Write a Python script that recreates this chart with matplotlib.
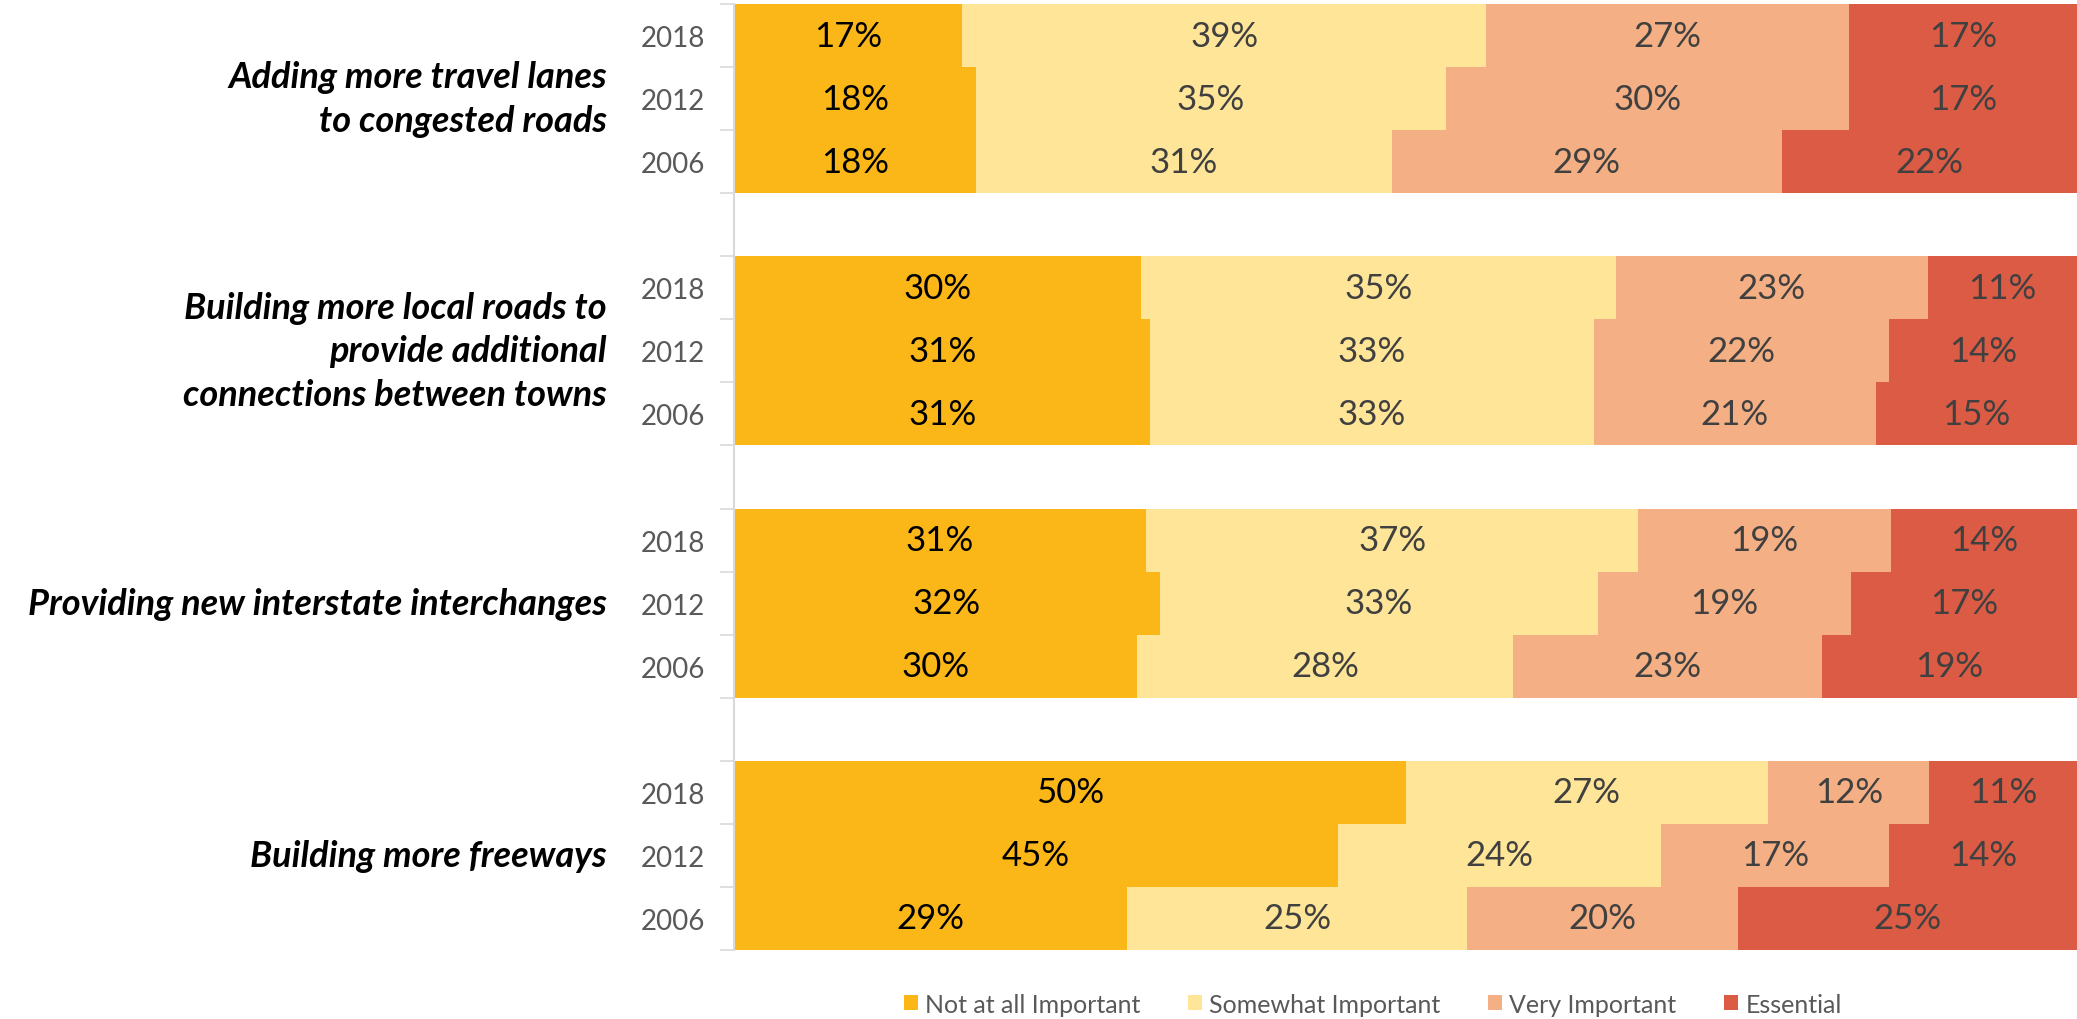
import numpy as np
import matplotlib
matplotlib.use("Agg")
import matplotlib.pyplot as plt
from matplotlib.patches import Patch

plt.rcParams['font.family'] = ['Lato', 'DejaVu Sans']

questions = ['Adding more travel lanes\nto congested roads',
             'Building more local roads to\nprovide additional\nconnections between towns',
             'Providing new interstate interchanges',
             'Building more freeways']
years = ['2018', '2012', '2006']
levels = ['Not at all Important', 'Somewhat Important', 'Very Important', 'Essential']
colors = ['#FAB717', '#FFE598', '#F4B084', '#DC5B44']

# rows: question x year, values in the order of levels
not_at_all = [[17, 18, 18], [30, 31, 31], [31, 32, 30], [50, 45, 29]]
somewhat   = [[39, 35, 31], [35, 33, 33], [37, 33, 28], [27, 24, 25]]
very       = [[27, 30, 29], [23, 22, 21], [19, 19, 23], [12, 17, 20]]
essential  = [[17, 17, 22], [11, 14, 15], [14, 17, 19], [11, 14, 25]]

series = [np.array(not_at_all, float), np.array(somewhat, float),
          np.array(very, float), np.array(essential, float)]

fig = plt.figure(figsize=(20.77, 10.20), dpi=100)
ax = fig.add_axes([734 / 2077, 1 - 951 / 1020, 1 - 734 / 2077, (951 - 5) / 1020])

ypos = []
for g in range(len(questions)):
    ypos.append([g * 4 + i for i in range(3)])
ypos = np.array(ypos, float)

totals = sum(series)
left = np.zeros_like(totals)
for k, vals in enumerate(series):
    share = vals / totals * 100
    ax.barh(ypos.ravel(), share.ravel(), left=left.ravel(), height=1.0,
            color=colors[k], edgecolor='none')
    tc = 'black' if k == 0 else '#404040'
    for g in range(vals.shape[0]):
        for i in range(vals.shape[1]):
            ax.text(left[g, i] + share[g, i] / 2, ypos[g, i], f'{int(vals[g, i])}%',
                    ha='center', va='center', fontsize=25, color=tc)
    left += share

ax.set_xlim(0, 100)
ax.set_ylim(14.5, -0.5)
ax.set_xticks([])
ax.set_yticks(ypos.ravel())
ax.set_yticklabels(years * len(questions))
ax.set_yticks(np.arange(-0.5, 15, 1.0), minor=True)
ax.tick_params(axis='y', which='major', length=0, pad=21, labelsize=20, labelcolor='#595959')
ax.tick_params(axis='y', which='minor', length=10, width=1.2, color='#D9D9D9')
for s in ['top', 'right', 'bottom']:
    ax.spines[s].set_visible(False)
ax.spines['left'].set_color('#D9D9D9')
ax.spines['left'].set_linewidth(1.5)

for g, q in enumerate(questions):
    ax.text(-0.0946, ypos[g, 1], q, transform=ax.get_yaxis_transform(),
            ha='right', va='center', fontsize=26, fontweight='bold', fontstyle='italic',
            linespacing=1.38, color='black')

handles = [Patch(facecolor=c, edgecolor='none', label=l) for c, l in zip(colors, levels)]
leg = fig.legend(handles=handles, loc='center', bbox_to_anchor=(0.661, 0.0147), ncol=4,
                 frameon=False, fontsize=18, handlelength=0.55, handleheight=0.55,
                 handletextpad=0.3, columnspacing=1.9)
for t in leg.get_texts():
    t.set_color('#595959')

fig.savefig('out.png', dpi=100)
